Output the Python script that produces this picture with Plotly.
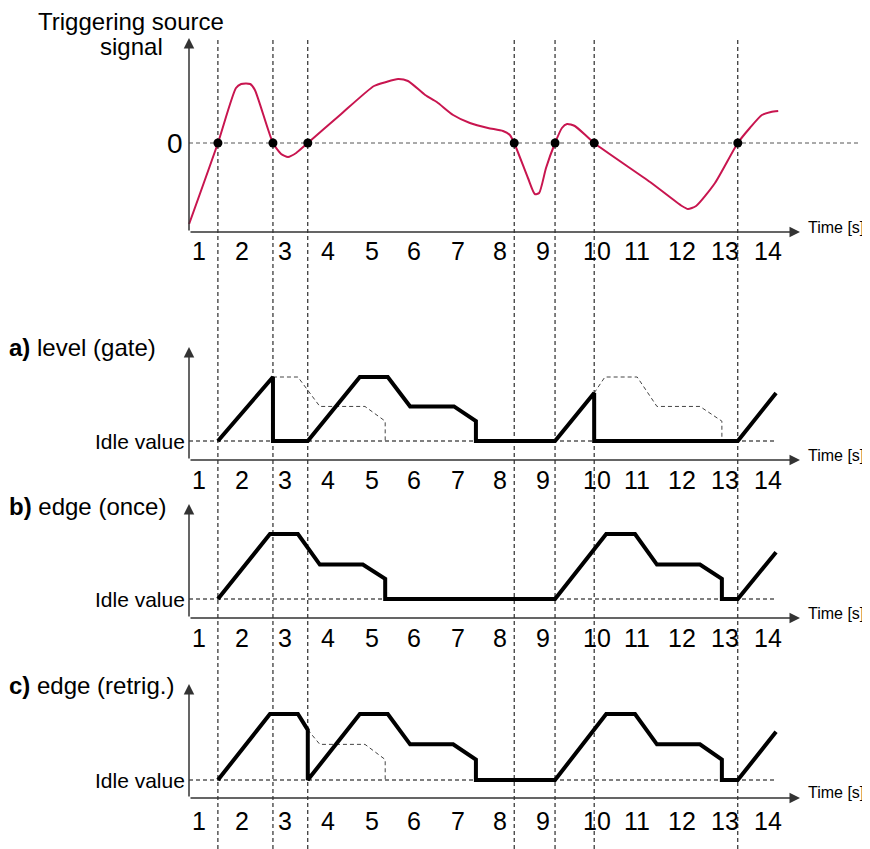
import plotly.graph_objects as go

REF_W, REF_H = 870, 849
OFF = 8  # page body margin of the browser
W, H = REF_W - OFF, REF_H - OFF
FONT = "Liberation Sans, Arial, sans-serif"

# instants where the source signal crosses zero (s)
TRIGGER_T = [1.44, 2.72, 3.53, 8.33, 9.28, 10.19, 13.53]

TICK_POS = [1, 2, 3, 4, 5.02, 6, 7.02, 8, 9, 10.26, 11.19, 12.23, 13.23, 14.23]
TICK_LABELS = ["1", "2", "3", "4", "5", "6", "7", "8", "9", "10", "11", "12", "13", "14"]

# triggering source signal
SIG_T = [0.77, 1.44, 1.86, 1.98, 2.19, 2.30, 2.72, 2.91, 3.07, 3.26, 3.53, 4.28, 5.07, 5.35,
         5.63, 5.86, 6.26, 6.53, 6.91, 7.30, 7.72, 8.07, 8.23, 8.33, 8.65, 8.81, 8.91, 9.07,
         9.28, 9.44, 9.56, 9.74, 10.19, 11.49, 12.23, 12.37, 12.56, 13.0, 13.53, 13.81,
         14.09, 14.30, 14.47]
SIG_V = [-8.1, 0, 5.5, 5.9, 5.9, 5.3, 0, -1.1, -1.4, -1.0, 0, 2.8, 5.7, 6.1,
         6.4, 6.2, 4.8, 4.1, 2.8, 2.0, 1.5, 1.2, 0.8, 0, -3.5, -5.1, -5.0, -2.5,
         0, 1.5, 1.9, 1.7, 0, -3.9, -6.3, -6.6, -6.3, -4.0, 0, 1.5,
         2.8, 3.1, 3.2]

# a) level (gate)
A_T = [1.44, 2.72, 2.72, 3.53, 4.74, 5.39, 5.91, 6.93, 7.44, 7.44, 9.28, 10.19, 10.19, 13.53, 14.42]
A_Y = [0, 1.0, 0, 0, 1.0, 1.0, 0.54, 0.54, 0.31, 0, 0, 0.75, 0, 0, 0.75]
A_GHOST_T = [2.72, 3.30, 3.81, 4.86, 5.33, 5.33, None, 10.19, 10.44, 11.19, 11.65, 12.65, 13.16, 13.16]
A_GHOST_Y = [1.0, 1.0, 0.54, 0.54, 0.31, 0, None, 0.75, 1.0, 1.0, 0.54, 0.54, 0.31, 0]

# b) edge (once)
B_T = [1.44, 2.65, 3.30, 3.81, 4.81, 5.33, 5.33, 9.28, 10.47, 11.14, 11.65, 12.65, 13.16, 13.16, 13.53, 14.42]
B_Y = [0, 1.0, 1.0, 0.53, 0.53, 0.31, 0, 0, 1.0, 1.0, 0.53, 0.53, 0.31, 0, 0, 0.72]

# c) edge (retrig.)
C_T = [1.44, 2.65, 3.30, 3.53, 3.53, 4.74, 5.39, 5.91, 6.91, 7.44, 7.44, 9.28, 10.47, 11.14,
       11.65, 12.65, 13.16, 13.16, 13.53, 14.42]
C_Y = [0, 1.0, 1.0, 0.76, 0, 1.0, 1.0, 0.54, 0.54, 0.31, 0, 0, 1.0, 1.0,
       0.54, 0.54, 0.31, 0, 0, 0.73]
C_GHOST_T = [3.53, 3.81, 4.86, 5.33, 5.33]
C_GHOST_Y = [0.76, 0.54, 0.54, 0.31, 0]


# ---- layout geometry (pixels of the reference canvas) ----
def tx(px):
    return (px - 199) / 43 + 1


# zero/idle row, px per unit, x-axis row, arrow tip, tick row, "Time" row, label row
PANELS = [
    dict(ref="y", zero=143, ppu=10, axis=232, tip=38, tick=251, time=227, lab=None),
    dict(ref="y2", zero=441, ppu=64, axis=460, tip=347, tick=480, time=455, lab=347),
    dict(ref="y3", zero=599, ppu=65, axis=618, tip=504, tick=638, time=613, lab=506),
    dict(ref="y4", zero=780, ppu=66, axis=798, tip=684, tick=821, time=792, lab=685),
]
LABELS = [None, "<b>a)</b> level (gate)", "<b>b)</b> edge (once)", "<b>c)</b> edge (retrig.)"]


def vy(p, px):
    return (p["zero"] - px) / p["ppu"]


fig = go.Figure()

fig.add_trace(go.Scatter(x=SIG_T, y=SIG_V, mode="lines", yaxis="y",
                         line=dict(color="#C8154F", width=2, shape="spline", smoothing=0.6)))
fig.add_trace(go.Scatter(x=TRIGGER_T, y=[0] * len(TRIGGER_T), mode="markers", yaxis="y",
                         marker=dict(color="black", size=9)))

ghost = dict(color="#444", width=1, dash="4px,3px")
thick = dict(color="black", width=4)
fig.add_trace(go.Scatter(x=A_GHOST_T, y=A_GHOST_Y, mode="lines", yaxis="y2", line=ghost))
fig.add_trace(go.Scatter(x=A_T, y=A_Y, mode="lines", yaxis="y2", line=thick))
fig.add_trace(go.Scatter(x=B_T, y=B_Y, mode="lines", yaxis="y3", line=thick))
fig.add_trace(go.Scatter(x=C_GHOST_T, y=C_GHOST_Y, mode="lines", yaxis="y4", line=ghost))
fig.add_trace(go.Scatter(x=C_T, y=C_Y, mode="lines", yaxis="y4", line=thick))

shapes = []
annotations = []
x_start, x_end = tx(189), tx(800)

for t in TRIGGER_T:
    shapes.append(dict(type="line", xref="x", yref="paper", x0=t, x1=t, y0=0,
                       y1=(REF_H - 40) / H,
                       line=dict(color="black", width=1, dash="4px,3px"), layer="below"))

for i, p in enumerate(PANELS):
    r = p["ref"]
    # dashed reference row (zero / idle value)
    shapes.append(dict(type="line", xref="x", yref=r, x0=x_start, x1=tx(858 if i == 0 else 776),
                       y0=0, y1=0, layer="below",
                       line=dict(color="#555" if i == 0 else "black", width=1, dash="4px,3px")))
    # axes with arrowheads
    annotations.append(dict(x=x_end, y=vy(p, p["axis"]), ax=x_start, ay=vy(p, p["axis"]),
                            xref="x", yref=r, axref="x", ayref=r, text="", showarrow=True,
                            arrowhead=2, arrowsize=1.4, arrowwidth=1.5, arrowcolor="#333"))
    annotations.append(dict(x=x_start, y=vy(p, p["tip"]), ax=x_start, ay=vy(p, p["axis"]),
                            xref="x", yref=r, axref="x", ayref=r, text="", showarrow=True,
                            arrowhead=2, arrowsize=1.4, arrowwidth=1.5, arrowcolor="#333"))
    annotations.append(dict(x=tx(806), y=vy(p, p["time"]), xref="x", yref=r, text="Time [s]",
                            showarrow=False, xanchor="left", yanchor="middle",
                            font=dict(size=16, color="black")))
    for pos, lab in zip(TICK_POS, TICK_LABELS):
        annotations.append(dict(x=pos, y=vy(p, p["tick"]), xref="x", yref=r, text=lab,
                                showarrow=False, xanchor="center", yanchor="middle",
                                font=dict(size=25, color="black")))
    if i == 0:
        annotations.append(dict(x=tx(131), y=vy(p, 21), xref="x", yref=r, text="Triggering source",
                                showarrow=False, font=dict(size=24, color="black")))
        annotations.append(dict(x=tx(131), y=vy(p, 46), xref="x", yref=r, text="signal",
                                showarrow=False, font=dict(size=24, color="black")))
        annotations.append(dict(x=tx(175), y=0, xref="x", yref=r, text="0", showarrow=False,
                                font=dict(size=28, color="black")))
    else:
        annotations.append(dict(x=tx(10), y=vy(p, p["lab"]), xref="x", yref=r, text=LABELS[i],
                                showarrow=False, xanchor="left", xshift=-3,
                                font=dict(size=24, color="black")))
        annotations.append(dict(x=tx(187), y=0, xref="x", yref=r, text="Idle value",
                                showarrow=False, xanchor="right", font=dict(size=21, color="black")))

layout_axes = {}
for i, p in enumerate(PANELS):
    name = "yaxis" if i == 0 else f"yaxis{i + 1}"
    ax = dict(range=[(p["zero"] - REF_H) / p["ppu"], (p["zero"] - OFF) / p["ppu"]],
              visible=False, fixedrange=True)
    if i:
        ax["overlaying"] = "y"
    layout_axes[name] = ax

fig.update_layout(
    width=W, height=H,
    margin=dict(l=0, r=0, t=0, b=0),
    plot_bgcolor="white", paper_bgcolor="white",
    font=dict(family=FONT, color="black"),
    showlegend=False,
    xaxis=dict(range=[tx(OFF), tx(REF_W)], visible=False, fixedrange=True),
    shapes=shapes,
    annotations=annotations,
    **layout_axes,
)

fig.write_html("out.html")
